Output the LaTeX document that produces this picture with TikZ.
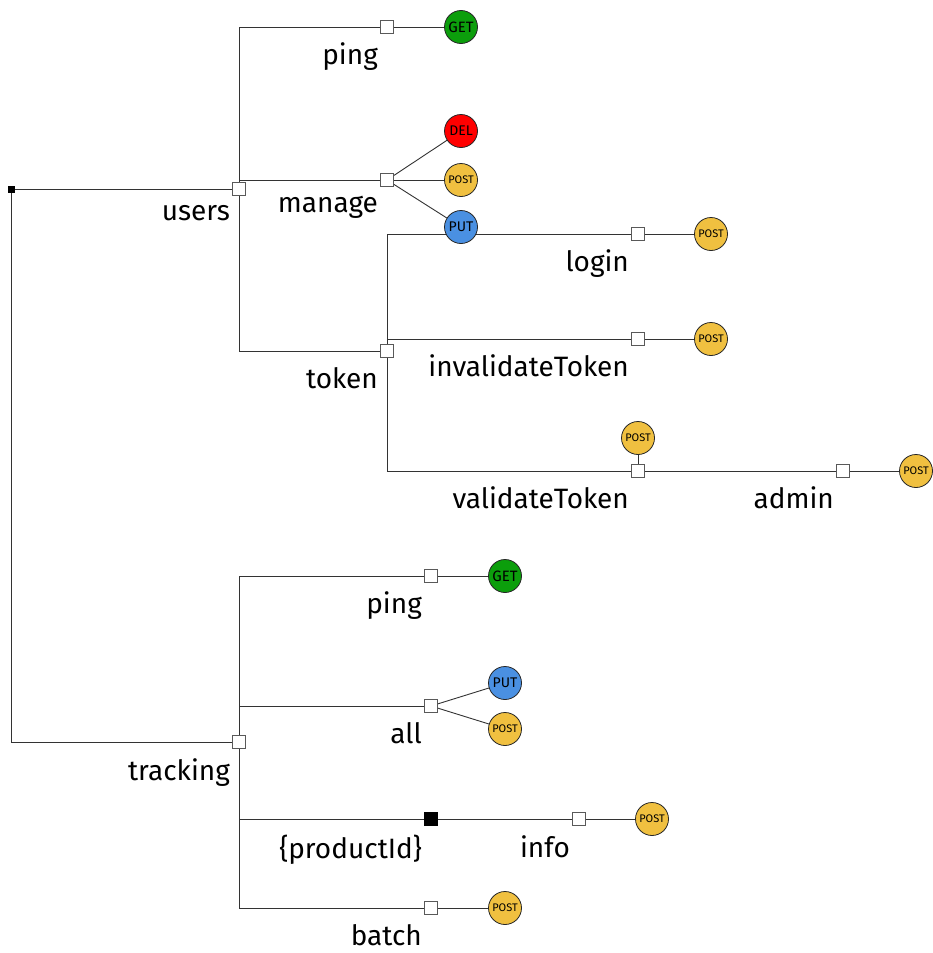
\documentclass[tikz,border=0pt]{standalone}
\usepackage{fontspec}
\setmainfont{Fira Sans}
\usetikzlibrary{backgrounds}

\definecolor{getgreen}{RGB}{12,158,12}
\definecolor{delred}{RGB}{255,0,0}
\definecolor{postyellow}{RGB}{240,192,64}
\definecolor{putblue}{RGB}{74,144,226}

\tikzset{
  seg/.style={draw=black!65, fill=white, line width=0.9pt, minimum size=13pt, inner sep=0pt},
  param/.style={seg, draw=black, fill=black},
  rootnode/.style={draw=black, fill=black, minimum size=6pt, inner sep=0pt},
  lbl/.style={font=\fontsize{28}{32}\selectfont, inner sep=2pt, yshift=-7pt},
  every label/.style={lbl},
  verb/.style={circle, draw=black!85, line width=0.8pt, minimum size=33pt, inner sep=0pt},
  verbget/.style={verb, fill=getgreen, font=\fontsize{15}{15}\selectfont},
  verbdel/.style={verb, fill=delred, font=\fontsize{14}{14}\selectfont},
  verbput/.style={verb, fill=putblue, font=\fontsize{14}{14}\selectfont},
  verbpost/.style={verb, fill=postyellow, font=\fontsize{11}{11}\selectfont},
  link/.style={draw=black!80, line width=0.9pt},
}

\begin{document}
\begin{tikzpicture}[x=1pt, y=-1pt]
\useasboundingbox (0,0) rectangle (932,953);

% root and users branch
\node[rootnode] (root) at (11,189) {};
\node[seg, label=below left:users] (users) at (239,189) {};
\node[seg, label=below left:ping] (uping) at (387,27) {};
\node[verbget] (upingget) at (461,27) {GET};
\node[seg, label=below left:manage] (manage) at (387,180) {};
\node[verbdel] (managedel) at (461,131) {DEL};
\node[verbpost] (managepost) at (461,180) {POST};
\node[verbput] (manageput) at (461,227) {PUT};
\node[seg, label=below left:token] (token) at (387,351) {};
\node[seg, label=below left:login] (login) at (638,234) {};
\node[verbpost] (loginpost) at (711,234) {POST};
\node[seg, label=below left:invalidateToken] (invalid) at (638,339) {};
\node[verbpost] (invalidpost) at (711,339) {POST};
\node[seg, label=below left:validateToken] (validate) at (638,471) {};
\node[verbpost] (validatepost) at (638,438) {POST};
\node[seg, label=below left:admin] (admin) at (843,471) {};
\node[verbpost] (adminpost) at (916,471) {POST};

% tracking branch
\node[seg, label=below left:tracking] (tracking) at (239,742) {};
\node[seg, label=below left:ping] (tping) at (431,576) {};
\node[verbget] (tpingget) at (505,576) {GET};
\node[seg, label=below left:all] (all) at (431,706) {};
\node[verbput] (allput) at (505,683) {PUT};
\node[verbpost] (allpost) at (505,729) {POST};
\node[param, label=below left:\{productId\}] (product) at (431,819) {};
\node[seg, label=below left:info] (info) at (579,819) {};
\node[verbpost] (infopost) at (652,819) {POST};
\node[seg, label=below left:batch] (batch) at (431,908) {};
\node[verbpost] (batchpost) at (505,908) {POST};

\begin{pgfonlayer}{background}
\draw[link] (root) -- (users);
\draw[link] (root) |- (tracking);
\draw[link] (users) |- (uping);
\draw[link] (users) |- (manage);
\draw[link] (users) |- (token);
\draw[link] (uping) -- (upingget);
\draw[link] (manage) -- (managedel);
\draw[link] (manage) -- (managepost);
\draw[link] (manage) -- (manageput);
\draw[link] (token) |- (login);
\draw[link] (token) |- (invalid);
\draw[link] (token) |- (validate);
\draw[link] (login) -- (loginpost);
\draw[link] (invalid) -- (invalidpost);
\draw[link] (validate) -- (validatepost);
\draw[link] (validate) -- (admin);
\draw[link] (admin) -- (adminpost);
\draw[link] (tracking) |- (tping);
\draw[link] (tracking) |- (all);
\draw[link] (tracking) |- (product);
\draw[link] (tracking) |- (batch);
\draw[link] (tping) -- (tpingget);
\draw[link] (all) -- (allput);
\draw[link] (all) -- (allpost);
\draw[link] (product) -- (info);
\draw[link] (info) -- (infopost);
\draw[link] (batch) -- (batchpost);
\end{pgfonlayer}
\end{tikzpicture}
\end{document}
